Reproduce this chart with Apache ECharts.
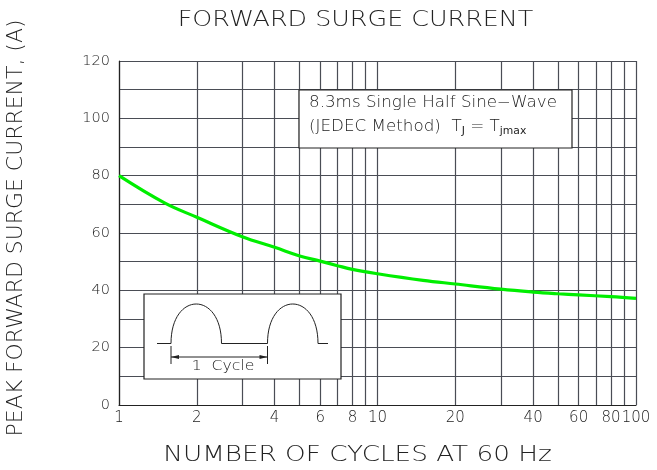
<!DOCTYPE html>
<html><head><meta charset="utf-8">
<script src="https://cdn.jsdelivr.net/npm/echarts@6/dist/echarts.min.js"></script>
<style>html,body{margin:0;padding:0;background:#fff}#c{width:657px;height:470px}</style>
</head><body><div id="c"></div>
<script>
const cycles = [1, 1.5, 2, 3, 4, 5, 6, 7, 8, 10, 15, 20, 30, 40, 50, 60, 80, 100];
const current = [80, 70.5, 65.5, 58.7, 55, 52, 50.2, 48.6, 47.3, 45.8, 43.5, 42.2, 40.4, 39.4, 38.8, 38.4, 37.8, 37.2];
const xGridValues = [1,2,3,4,5,6,7,8,9,10,20,30,40,50,60,70,80,90,100];
const xTickLabels = [1,2,4,6,8,10,20,40,60,80,100];
const yTickLabels = [0,20,40,60,80,100,120];
const titleText = 'FORWARD SURGE CURRENT';
const xTitle = 'NUMBER OF CYCLES AT 60 Hz';
const yTitle = 'PEAK FORWARD SURGE CURRENT, (A)';

const FONT = 'DejaVu Sans';
const INK = '#222';
const chart = echarts.init(document.getElementById('c'), null, {renderer: 'canvas'});

const LS = {stroke: INK, lineWidth: 1, fill: null};
function arch(x0, x1, yb, ytop) {
  const cpy = (ytop - 0.25 * yb) / 0.75;
  return {type: 'bezierCurve', z: 11, shape: {x1: x0, y1: yb, cpx1: x0, cpy1: cpy, cpx2: x1, cpy2: cpy, x2: x1, y2: yb}, style: LS};
}
function seg(x1, y1, x2, y2) {
  return {type: 'line', z: 11, shape: {x1, y1, x2, y2}, style: LS};
}
function label(text, x, y, size, sx, rot, align) {
  return {type: 'text', x, y, rotation: rot || 0, scaleX: sx, z: 12, style: {
    text, x: 0, y: 0, align: align || 'center', verticalAlign: 'middle',
    fontFamily: FONT, fontWeight: 200, fontSize: size, fill: INK}};
}

const option = {
  animation: false,
  backgroundColor: '#fff',
  grid: {left: 119, right: 21, top: 61, bottom: 65},
  xAxis: {
    type: 'log', logBase: 10, min: 1, max: 100,
    axisLine: {show: true, lineStyle: {color: INK, width: 1.2}},
    axisTick: {show: false, customValues: xGridValues},
    axisLabel: {customValues: xTickLabels, fontFamily: FONT, fontWeight: 200, fontSize: 15, color: INK, margin: 6},
    splitLine: {show: true, lineStyle: {color: '#4a4d55', width: 1.2}}
  },
  yAxis: {
    type: 'value', min: 0, max: 120, interval: 10,
    axisLine: {show: true, lineStyle: {color: INK, width: 1.2}},
    axisTick: {show: false},
    axisLabel: {
      fontFamily: FONT, fontWeight: 200, fontSize: 14.5, color: INK, margin: 9,
      formatter: v => yTickLabels.indexOf(v) >= 0 ? String(v) : ''
    },
    splitLine: {show: true, lineStyle: {color: '#4a4d55', width: 1.2}}
  },
  series: [{
    type: 'line', smooth: 0.4, showSymbol: false,
    data: cycles.map((c, i) => [c, current[i]]),
    lineStyle: {color: '#00ee00', width: 3.2},
    z: 5
  }],
  graphic: [
    label(titleText, 355.5, 20.5, 21.5, 1.18),
    label(xTitle, 357.5, 455.5, 20.5, 1.28),
    label(yTitle, 17, 228, 20.5, 1.07, Math.PI / 2),
    {type: 'rect', shape: {x: 299, y: 90, width: 273, height: 58}, style: {fill: '#fff', stroke: INK, lineWidth: 1.2}, z: 10},
    {type: 'text', x: 309, y: 103, scaleX: 1.08, z: 11, style: {
      text: '8.3ms Single Half Sine\u2212Wave', x: 0, y: 0, verticalAlign: 'middle',
      fontFamily: FONT, fontWeight: 200, fontSize: 15.5, fill: INK}},
    {type: 'text', x: 309, y: 127, scaleX: 1.08, z: 11, style: {
      text: '(JEDEC Method)  T{s|J} = T{s|jmax}', x: 0, y: 0, verticalAlign: 'middle',
      fontFamily: FONT, fontWeight: 200, fontSize: 15.5, fill: INK,
      rich: {s: {fontSize: 10, fontFamily: FONT, padding: [8, 0, 0, 0], fill: INK}}}},
    {type: 'rect', shape: {x: 144, y: 294, width: 197, height: 85}, style: {fill: '#fff', stroke: INK, lineWidth: 1.2}, z: 10},
    seg(157, 343.5, 171, 343.5),
    arch(171, 221.5, 343.5, 304),
    seg(221.5, 343.5, 267.5, 343.5),
    arch(267.5, 318, 343.5, 304),
    seg(318, 343.5, 328, 343.5),
    seg(171, 346, 171, 364),
    seg(267.5, 346, 267.5, 364),
    seg(171, 357, 267.5, 357),
    {type: 'polygon', z: 11, shape: {points: [[171, 357], [179, 355], [179, 359]]}, style: {fill: INK}},
    {type: 'polygon', z: 11, shape: {points: [[267.5, 357], [259.5, 355], [259.5, 359]]}, style: {fill: INK}},
    label('1  Cycle', 223, 366.5, 14.5, 1.08)
  ]
};
chart.setOption(option);
</script></body></html>
